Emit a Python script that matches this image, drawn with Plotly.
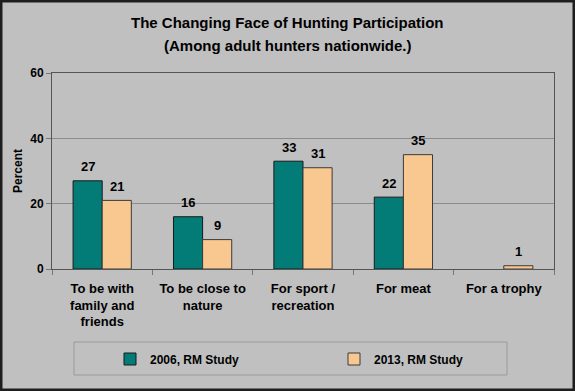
import plotly.graph_objects as go

categories = ["To be with<br>family and<br>friends", "To be close to<br>nature",
              "For sport /<br>recreation", "For meat", "For a trophy"]
series_2006 = [27, 16, 33, 22, None]
series_2013 = [21, 9, 31, 35, 1]
name_2006 = "2006, RM Study"
name_2013 = "2013, RM Study"
title_line1 = "The Changing Face of Hunting Participation"
title_line2 = "(Among adult hunters nationwide.)"

FONT = "Liberation Sans, Arial, sans-serif"
BG = "#C0C0C0"
LABEL_FONT = dict(family=FONT, size=13, color="black", weight="bold")

W, H = 575, 391
L, R, T, B = 52, 21, 73, 122
pw, ph = W - L - R, H - T - B


def px(x):
    return (x - L) / pw


def py(y):
    return (H - B - y) / ph


fig = go.Figure()
fig.add_trace(go.Bar(
    x=categories, y=series_2006, name=name_2006,
    marker=dict(color="#037C77", line=dict(color="#1A1A1A", width=1)),
))
fig.add_trace(go.Bar(
    x=categories, y=series_2013, name=name_2013,
    marker=dict(color="#F9C891", line=dict(color="#3A3A3A", width=1)),
))

annotations = []
for cat, v in zip(categories, series_2006):
    if v is not None:
        annotations.append(dict(x=cat, y=v, xref="x", yref="y", text=str(v),
                                showarrow=False, xshift=-14.5, yshift=14,
                                font=LABEL_FONT))
for cat, v in zip(categories, series_2013):
    if v is not None:
        annotations.append(dict(x=cat, y=v, xref="x", yref="y", text=str(v),
                                showarrow=False, xshift=14.5, yshift=14,
                                font=LABEL_FONT))

TITLE_FONT = dict(family=FONT, size=15, color="black", weight="bold")
annotations.append(dict(x=px(W / 2), y=py(22), xref="paper", yref="paper",
                        text=title_line1, showarrow=False, xanchor="center",
                        yanchor="middle", font=TITLE_FONT))
annotations.append(dict(x=px(W / 2), y=py(45), xref="paper", yref="paper",
                        text=title_line2, showarrow=False, xanchor="center",
                        yanchor="middle", font=TITLE_FONT))

fig.update_layout(
    width=W, height=H,
    margin=dict(l=L, r=R, t=T, b=B, autoexpand=False),
    paper_bgcolor=BG, plot_bgcolor=BG,
    font=dict(family=FONT, color="black"),
    barmode="group", bargap=0.42, bargroupgap=0,
    showlegend=True,
    legend=dict(
        orientation="h", x=px(110), xanchor="left", y=py(359), yanchor="middle",
        entrywidth=179, entrywidthmode="pixels",
        bgcolor="rgba(0,0,0,0)", borderwidth=0,
        font=dict(family=FONT, size=12, color="black", weight="bold"),
    ),
    xaxis=dict(
        showline=True, linecolor="#555555", linewidth=1, mirror=True,
        ticks="outside", tickson="boundaries", ticklen=5, tickcolor="#777777",
        ticklabelstandoff=7,
        tickfont=dict(family=FONT, size=13, color="black", weight="bold"),
        showgrid=False,
    ),
    yaxis=dict(
        range=[0, 60], tickvals=[0, 20, 40, 60],
        showline=True, linecolor="#555555", linewidth=1, mirror=True,
        ticks="outside", ticklen=5, tickcolor="#777777",
        showgrid=True, gridcolor="#8C8C8C", gridwidth=1, zeroline=False,
        tickfont=dict(family=FONT, size=12, color="black", weight="bold"),
        title=dict(text="Percent", standoff=5,
                   font=dict(family=FONT, size=12, color="black", weight="bold")),
    ),
    annotations=annotations,
    shapes=[
        dict(type="rect", xref="paper", yref="paper",
             x0=px(74), x1=px(507), y0=py(375), y1=py(342),
             line=dict(color="#9A9A9A", width=1), fillcolor="rgba(0,0,0,0)", layer="below"),
        dict(type="rect", xref="paper", yref="paper",
             x0=px(1), x1=px(W - 1), y0=py(H - 1), y1=py(1),
             line=dict(color="#1E1E1E", width=3), fillcolor="rgba(0,0,0,0)"),
    ],
)

fig.write_html("out.html", config={"displayModeBar": False},
               post_script="document.body.style.margin='0';document.body.style.overflow='hidden';")
